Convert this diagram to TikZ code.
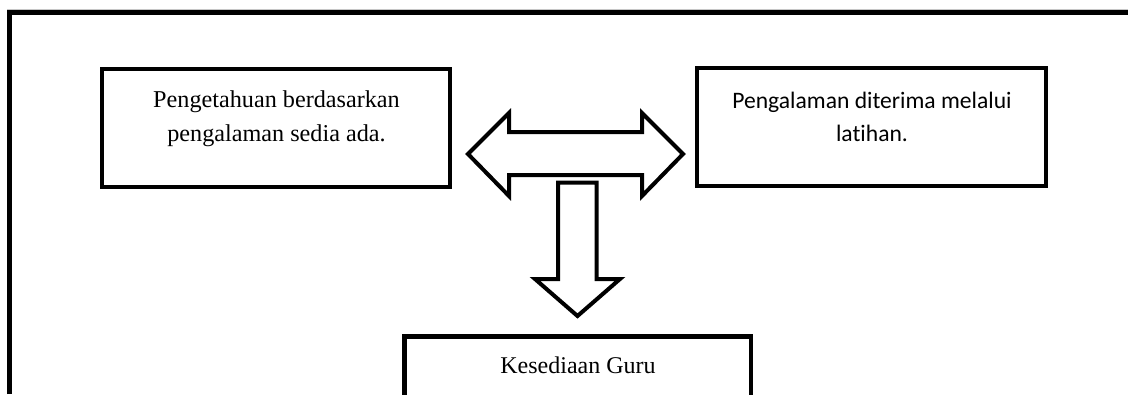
\documentclass[tikz,border=0pt]{standalone}
\usepackage{fontspec}
\setmainfont{Liberation Serif}
\newfontfamily\calib[Ligatures=NoCommon]{Carlito}
\begin{document}
\begin{tikzpicture}[x=1pt,y=-1pt,
  box/.style={draw=black,line width=4.5pt,line join=miter,inner sep=0pt},
  blockarrow/.style={draw=black,fill=white,line width=4pt,line join=miter},
  serifA/.style={anchor=base,inner sep=0pt,font=\fontsize{24.2}{29}\selectfont},
  serifB/.style={anchor=base,inner sep=0pt,font=\fontsize{24}{29}\selectfont},
  sansA/.style={anchor=base,inner sep=0pt,font=\calib\fontsize{23.6}{29}\selectfont}]
\useasboundingbox (0,0) rectangle (1128,394);
\fill[white] (0,0) rectangle (1128,394);
% outer frame
\draw[gray!45,line width=1pt] (7,9.5) -- (1128,9.5);
\draw[line width=5pt,line join=miter] (9.5,394) -- (9.5,12.5) -- (1128,12.5);
% boxes
\node[box,minimum width=348pt,minimum height=118pt] (b1) at (276,128) {};
\node[box,minimum width=349pt,minimum height=118pt] (b2) at (871.5,127) {};
\node[box,minimum width=346.5pt,minimum height=120pt] (b3) at (577.75,396.5) {};
% texts
\node[serifA] (t1a) at (276.5,107) {Pengetahuan berdasarkan};
\node[serifA] (t1b) at (276.5,141) {pengalaman sedia ada.};
\node[sansA] (t2a) at (872,108) {Pengalaman diterima melalui};
\node[sansA] (t2b) at (872,141) {latihan.};
\node[serifB] (t3) at (578,373) {Kesediaan Guru};
% double block arrow
\draw[blockarrow] (468,154) -- (509,113) -- (509,132) -- (642,132) -- (642,113)
  -- (683,154) -- (642,196) -- (642,175) -- (509,175) -- (509,196) -- cycle;
% down block arrow
\draw[blockarrow] (558,182.5) -- (596.5,182.5) -- (596.5,279) -- (620,279)
  -- (577.5,316) -- (535,279) -- (558,279) -- cycle;
\end{tikzpicture}
\end{document}
